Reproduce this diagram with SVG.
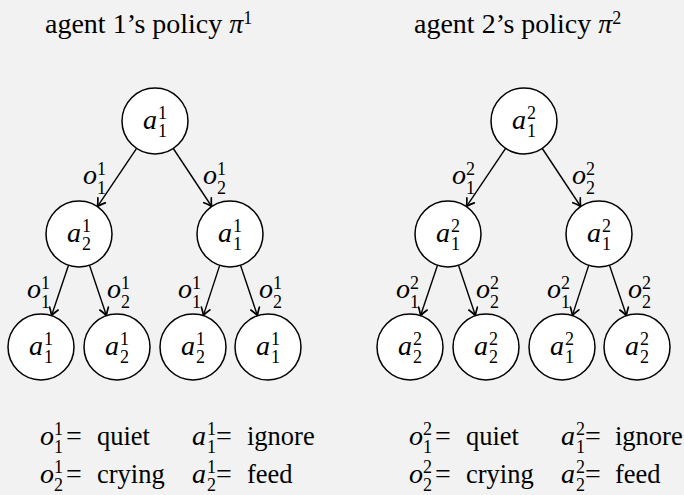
<svg xmlns="http://www.w3.org/2000/svg" width="684" height="495" viewBox="0 0 684 495">
<style>
text{font-family:"Liberation Serif","Times New Roman",serif;fill:#000}
.t{font-size:28px}
.w{font-size:26.5px}
.m{font-size:28px;font-style:italic}
.s{font-size:18px}
.node circle{fill:#fff;stroke:#000;stroke-width:1.5}
.edge line{stroke:#000;stroke-width:1.4;marker-end:url(#arr)}
</style>
<defs>
<marker id="arr" markerUnits="userSpaceOnUse" markerWidth="14" markerHeight="12" viewBox="-10 -6 12 12" refX="0" refY="0" orient="auto">
<path d="M-7.5,-4.5 Q-2.5,-1 0,0 Q-2.5,1 -7.5,4.5" fill="none" stroke="#000" stroke-width="1.7" stroke-linecap="round"/>
</marker>
</defs>
<rect width="684" height="495" fill="#f2f2f2"/>

<g id="titles">
<text class="t" x="45" y="33">agent 1’s policy <tspan font-style="italic">π</tspan><tspan class="s" dy="-9">1</tspan></text>
<text class="t" x="414" y="33">agent 2’s policy <tspan font-style="italic">π</tspan><tspan class="s" dy="-9">2</tspan></text>
</g>

<g id="connectors" class="edge">
<line x1="136.6" y1="148.4" x2="97.4" y2="206.6"/>
<line x1="173.3" y1="148.5" x2="211.7" y2="206.5"/>
<line x1="68.5" y1="265.3" x2="51.5" y2="315.7"/>
<line x1="89.5" y1="265.3" x2="106.5" y2="315.7"/>
<line x1="219.7" y1="265.4" x2="203.3" y2="315.6"/>
<line x1="240.5" y1="265.3" x2="257.5" y2="315.7"/>
<line x1="505.6" y1="148.4" x2="466.4" y2="206.6"/>
<line x1="542.3" y1="148.5" x2="580.7" y2="206.5"/>
<line x1="437.5" y1="265.3" x2="420.5" y2="315.7"/>
<line x1="458.5" y1="265.3" x2="475.5" y2="315.7"/>
<line x1="588.7" y1="265.4" x2="572.3" y2="315.6"/>
<line x1="609.5" y1="265.3" x2="626.5" y2="315.7"/>
</g>

<g id="edge-labels">
<text class="m" x="83" y="184">o</text><text class="s" x="97" y="175">1</text><text class="s" x="97" y="194">1</text>
<text class="m" x="203" y="184">o</text><text class="s" x="217" y="175">1</text><text class="s" x="217" y="194">2</text>
<text class="m" x="27" y="298">o</text><text class="s" x="41" y="289">1</text><text class="s" x="41" y="308">1</text>
<text class="m" x="107" y="298">o</text><text class="s" x="121" y="289">1</text><text class="s" x="121" y="308">2</text>
<text class="m" x="178" y="298">o</text><text class="s" x="192" y="289">1</text><text class="s" x="192" y="308">1</text>
<text class="m" x="259" y="298">o</text><text class="s" x="273" y="289">1</text><text class="s" x="273" y="308">2</text>
<text class="m" x="452" y="184">o</text><text class="s" x="466" y="175">2</text><text class="s" x="466" y="194">1</text>
<text class="m" x="572" y="184">o</text><text class="s" x="586" y="175">2</text><text class="s" x="586" y="194">2</text>
<text class="m" x="396" y="298">o</text><text class="s" x="410" y="289">2</text><text class="s" x="410" y="308">1</text>
<text class="m" x="476" y="298">o</text><text class="s" x="490" y="289">2</text><text class="s" x="490" y="308">2</text>
<text class="m" x="547" y="298">o</text><text class="s" x="561" y="289">2</text><text class="s" x="561" y="308">1</text>
<text class="m" x="628" y="298">o</text><text class="s" x="642" y="289">2</text><text class="s" x="642" y="308">2</text>
</g>

<g id="n1" class="node"><circle cx="155" cy="121" r="33"/><text class="m" x="143" y="129">a</text><text class="s" x="158" y="119">1</text><text class="s" x="158" y="137">1</text></g>
<g id="n2" class="node"><circle cx="79" cy="234" r="33"/><text class="m" x="67" y="242">a</text><text class="s" x="82" y="232">1</text><text class="s" x="82" y="250">2</text></g>
<g id="n3" class="node"><circle cx="230" cy="234" r="33"/><text class="m" x="218" y="242">a</text><text class="s" x="233" y="232">1</text><text class="s" x="233" y="250">1</text></g>
<g id="n4" class="node"><circle cx="41" cy="347" r="33"/><text class="m" x="29" y="355">a</text><text class="s" x="44" y="345">1</text><text class="s" x="44" y="363">1</text></g>
<g id="n5" class="node"><circle cx="117" cy="347" r="33"/><text class="m" x="105" y="355">a</text><text class="s" x="120" y="345">1</text><text class="s" x="120" y="363">2</text></g>
<g id="n6" class="node"><circle cx="193" cy="347" r="33"/><text class="m" x="181" y="355">a</text><text class="s" x="196" y="345">1</text><text class="s" x="196" y="363">2</text></g>
<g id="n7" class="node"><circle cx="268" cy="347" r="33"/><text class="m" x="256" y="355">a</text><text class="s" x="271" y="345">1</text><text class="s" x="271" y="363">1</text></g>

<g id="m1" class="node"><circle cx="524" cy="121" r="33"/><text class="m" x="512" y="129">a</text><text class="s" x="527" y="119">2</text><text class="s" x="527" y="137">1</text></g>
<g id="m2" class="node"><circle cx="448" cy="234" r="33"/><text class="m" x="436" y="242">a</text><text class="s" x="451" y="232">2</text><text class="s" x="451" y="250">1</text></g>
<g id="m3" class="node"><circle cx="599" cy="234" r="33"/><text class="m" x="587" y="242">a</text><text class="s" x="602" y="232">2</text><text class="s" x="602" y="250">1</text></g>
<g id="m4" class="node"><circle cx="410" cy="347" r="33"/><text class="m" x="398" y="355">a</text><text class="s" x="413" y="345">2</text><text class="s" x="413" y="363">2</text></g>
<g id="m5" class="node"><circle cx="486" cy="347" r="33"/><text class="m" x="474" y="355">a</text><text class="s" x="489" y="345">2</text><text class="s" x="489" y="363">2</text></g>
<g id="m6" class="node"><circle cx="562" cy="347" r="33"/><text class="m" x="550" y="355">a</text><text class="s" x="565" y="345">2</text><text class="s" x="565" y="363">1</text></g>
<g id="m7" class="node"><circle cx="637" cy="347" r="33"/><text class="m" x="625" y="355">a</text><text class="s" x="640" y="345">2</text><text class="s" x="640" y="363">2</text></g>

<g id="legend1">
<text class="m" x="40" y="445">o</text><text class="s" x="54" y="435">1</text><text class="s" x="54" y="453">1</text>
<text class="t" x="66" y="445">=</text><text class="w" x="97" y="445">quiet</text>
<text class="m" x="192" y="445">a</text><text class="s" x="207" y="435">1</text><text class="s" x="207" y="453">1</text>
<text class="t" x="216" y="445">=</text><text class="w" x="247" y="445">ignore</text>
<text class="m" x="40" y="483">o</text><text class="s" x="54" y="473">1</text><text class="s" x="54" y="491">2</text>
<text class="t" x="66" y="483">=</text><text class="w" x="97" y="483">crying</text>
<text class="m" x="192" y="483">a</text><text class="s" x="207" y="473">1</text><text class="s" x="207" y="491">2</text>
<text class="t" x="216" y="483">=</text><text class="w" x="247" y="483">feed</text>
</g>
<g id="legend2">
<text class="m" x="409" y="445">o</text><text class="s" x="423" y="435">2</text><text class="s" x="423" y="453">1</text>
<text class="t" x="435" y="445">=</text><text class="w" x="466" y="445">quiet</text>
<text class="m" x="561" y="445">a</text><text class="s" x="576" y="435">2</text><text class="s" x="576" y="453">1</text>
<text class="t" x="585" y="445">=</text><text class="w" x="615" y="445">ignore</text>
<text class="m" x="409" y="483">o</text><text class="s" x="423" y="473">2</text><text class="s" x="423" y="491">2</text>
<text class="t" x="435" y="483">=</text><text class="w" x="466" y="483">crying</text>
<text class="m" x="561" y="483">a</text><text class="s" x="576" y="473">2</text><text class="s" x="576" y="491">2</text>
<text class="t" x="585" y="483">=</text><text class="w" x="615" y="483">feed</text>
</g>
</svg>
